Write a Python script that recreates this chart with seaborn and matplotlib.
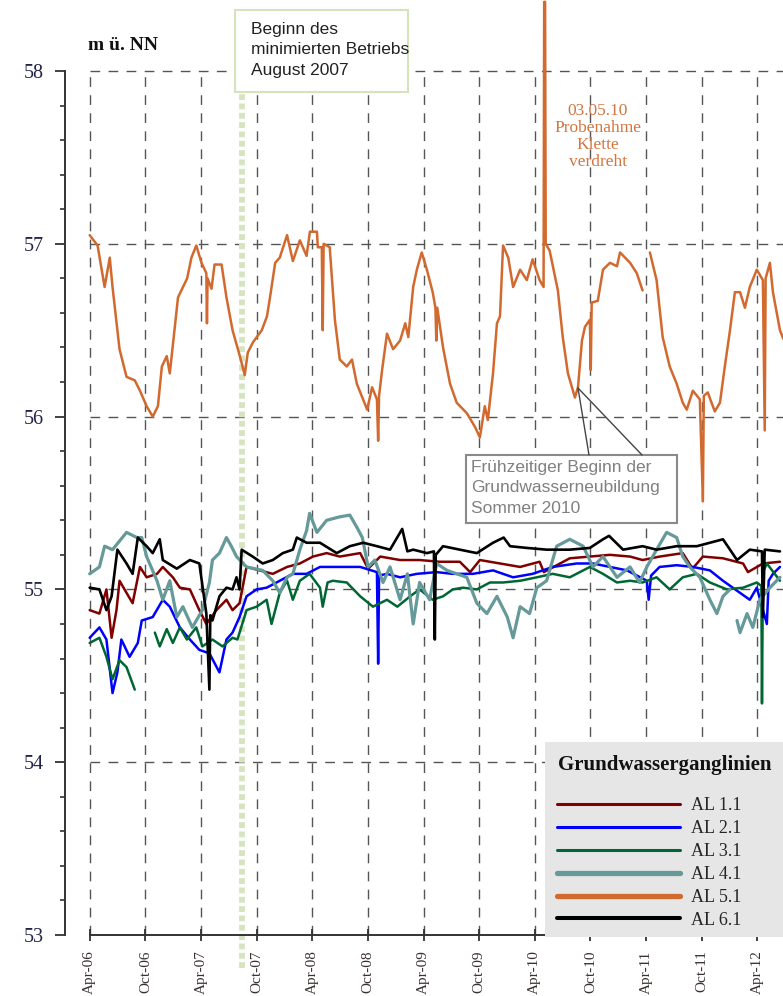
import numpy as np
import pandas as pd
import matplotlib
matplotlib.use("Agg")
import matplotlib.pyplot as plt
from matplotlib.lines import Line2D
from matplotlib.patches import Rectangle
from matplotlib.ticker import FixedLocator
import seaborn as sns

sns.set_style("ticks")
plt.rcParams["font.family"] = ["Liberation Serif", "DejaVu Serif"]

# ---------------- data ----------------
series_names = ["AL 1.1", "AL 2.1", "AL 3.1", "AL 4.1", "AL 5.1", "AL 6.1"]
series_colors = ["#800000", "#0000ff", "#006633", "#669999", "#d2692e", "#000000"]

al11_dates = ["2006-04-01", "2006-05-03", "2006-05-26", "2006-06-12", "2006-06-28", "2006-07-08", "2006-07-31",
              "2006-08-20", "2006-09-13", "2006-10-05", "2006-11-08", "2006-11-27", "2006-12-30", "2007-01-22",
              "2007-02-24", "2007-03-27", "2007-04-19", "2007-05-22", "2007-06-24", "2007-07-14", "2007-08-06",
              "2007-08-29", "2007-10-11", "2007-11-23", "2008-01-09", "2008-02-20", "2008-04-03", "2008-05-18",
              "2008-06-30", "2008-09-05", "2008-10-01", "2008-11-10", "2009-01-14", "2009-03-19", "2009-05-24",
              "2009-07-29", "2009-09-01", "2009-10-03", "2009-12-08", "2010-02-12", "2010-04-17", "2010-05-01",
              "2010-07-25", "2010-09-29", "2010-12-04", "2011-02-08", "2011-03-21", "2011-05-16", "2011-07-31",
              "2011-09-01", "2011-10-05", "2011-12-10", "2012-02-14", "2012-03-01", "2012-04-19", "2012-06-14"]
al11_vals = [54.88, 54.86, 55.00, 54.72, 54.88, 55.05, 54.98,
             54.92, 55.13, 55.07, 55.09, 55.13, 55.07, 55.01,
             55.00, 54.88, 54.80, 54.88, 54.94, 54.88, 54.92,
             55.13, 55.11, 55.09, 55.13, 55.15, 55.19, 55.21,
             55.19, 55.21, 55.12, 55.19, 55.17, 55.17, 55.16,
             55.16, 55.10, 55.17, 55.15, 55.13, 55.16, 55.10,
             55.18, 55.19, 55.20, 55.19, 55.17, 55.19, 55.21,
             55.12, 55.19, 55.18, 55.15, 55.10, 55.15, 55.16]

al21_dates = ["2006-04-01", "2006-05-03", "2006-05-26", "2006-06-15", "2006-07-01", "2006-07-14", "2006-08-10",
              "2006-09-06", "2006-09-19", "2006-10-25", "2006-11-27", "2006-12-20", "2007-01-22", "2007-02-24",
              "2007-03-27", "2007-04-29", "2007-06-01", "2007-06-24", "2007-07-14", "2007-08-06", "2007-08-29",
              "2007-10-01", "2007-11-03", "2007-12-16", "2008-01-28", "2008-03-13", "2008-04-26", "2008-06-30",
              "2008-09-05", "2008-10-30", "2008-11-03", "2008-11-06", "2008-12-02", "2009-01-14", "2009-03-10",
              "2009-05-14", "2009-07-06", "2009-09-10", "2009-11-15", "2010-01-20", "2010-03-25", "2010-05-30",
              "2010-08-17", "2010-10-09", "2010-12-04", "2011-01-29", "2011-04-04", "2011-04-10", "2011-04-18",
              "2011-05-16", "2011-07-11", "2011-09-02", "2011-10-28", "2011-12-10", "2012-02-04", "2012-03-07",
              "2012-03-30", "2012-05-02", "2012-05-08", "2012-05-22", "2012-06-14"]
al21_vals = [54.72, 54.78, 54.71, 54.40, 54.52, 54.71, 54.61,
             54.69, 54.82, 54.84, 54.94, 54.90, 54.78, 54.71,
             54.65, 54.63, 54.52, 54.71, 54.75, 54.84, 54.96,
             55.00, 55.01, 55.05, 55.09, 55.09, 55.13, 55.13,
             55.13, 55.10, 54.57, 55.08, 55.09, 55.07, 55.09,
             55.10, 55.09, 55.09, 55.11, 55.07, 55.09, 55.13,
             55.15, 55.15, 55.13, 55.11, 55.05, 54.94, 55.08,
             55.13, 55.14, 55.13, 55.11, 55.05, 54.98, 54.94,
             55.01, 54.80, 55.05, 55.09, 55.13]

al31_dates = ["2006-04-01", "2006-05-03", "2006-05-26", "2006-06-15", "2006-07-08", "2006-07-31", "2006-08-27",
              "2006-09-15", "2006-11-01", "2006-11-17", "2006-12-10", "2006-12-30", "2007-01-22", "2007-02-14",
              "2007-03-17", "2007-04-06", "2007-05-09", "2007-06-11", "2007-07-14", "2007-07-30", "2007-08-29",
              "2007-10-01", "2007-11-03", "2007-11-19", "2007-12-16", "2008-01-09", "2008-01-28", "2008-02-20",
              "2008-03-23", "2008-04-26", "2008-05-05", "2008-05-21", "2008-06-07", "2008-07-23", "2008-09-05",
              "2008-10-17", "2008-12-02", "2009-01-05", "2009-02-16", "2009-03-19", "2009-05-01", "2009-06-04",
              "2009-07-06", "2009-08-08", "2009-09-23", "2009-11-05", "2009-12-18", "2010-02-12", "2010-04-08",
              "2010-05-30", "2010-07-25", "2010-09-29", "2010-11-11", "2010-12-27", "2011-02-08", "2011-03-21",
              "2011-05-06", "2011-06-18", "2011-07-31", "2011-09-15", "2011-10-28", "2011-12-23", "2012-02-14",
              "2012-03-30", "2012-04-14", "2012-04-16", "2012-04-19", "2012-05-02", "2012-06-14"]
al31_vals = [54.69, 54.72, 54.61, 54.48, 54.59, 54.55, 54.42,
             np.nan, 54.75, 54.67, 54.77, 54.69, 54.78, 54.71,
             54.78, 54.67, 54.71, 54.67, 54.72, 54.71, 54.88,
             54.90, 54.94, 54.80, 54.98, 55.05, 54.94, 55.05,
             55.09, 55.01, 54.90, 55.04, 55.05, 55.04, 54.96,
             54.90, 54.94, 54.90, 54.96, 55.00, 54.94, 54.96,
             55.00, 55.01, 55.00, 55.04, 55.04, 55.05, 55.07,
             55.09, 55.07, 55.13, 55.09, 55.04, 55.05, 55.04,
             55.07, 55.00, 55.07, 55.09, 55.04, 55.00, 55.01,
             55.04, 55.02, 54.34, 55.10, 55.15, 55.05]

al41_dates = ["2006-04-01", "2006-05-03", "2006-05-20", "2006-06-15", "2006-07-31", "2006-09-03", "2006-09-19",
              "2006-10-05", "2006-11-08", "2006-11-27", "2006-12-20", "2007-01-12", "2007-02-01", "2007-03-04",
              "2007-04-06", "2007-04-29", "2007-05-09", "2007-06-01", "2007-06-24", "2007-07-10", "2007-07-27",
              "2007-08-29", "2007-10-21", "2007-11-23", "2007-12-16", "2008-01-09", "2008-01-28", "2008-02-20",
              "2008-03-13", "2008-03-23", "2008-04-16", "2008-05-18", "2008-06-30", "2008-08-02", "2008-08-25",
              "2008-09-12", "2008-10-01", "2008-10-23", "2008-11-19", "2008-12-12", "2009-01-14", "2009-02-07",
              "2009-02-26", "2009-03-19", "2009-04-21", "2009-05-14", "2009-06-17", "2009-07-19", "2009-08-21",
              "2009-09-23", "2009-10-26", "2009-11-28", "2010-01-01", "2010-01-20", "2010-02-12", "2010-03-15",
              "2010-04-08", "2010-05-10", "2010-06-12", "2010-07-25", "2010-09-07", "2010-10-09", "2010-11-11",
              "2010-12-27", "2011-02-08", "2011-03-11", "2011-04-04", "2011-05-06", "2011-06-08", "2011-07-11",
              "2011-07-31", "2011-08-23", "2011-09-25", "2011-10-28", "2011-11-20", "2011-12-10", "2012-01-02",
              "2012-01-12", "2012-01-25", "2012-02-04", "2012-02-27", "2012-03-17", "2012-04-09", "2012-05-12",
              "2012-06-14"]
al41_vals = [55.09, 55.13, 55.25, 55.23, 55.33, 55.30, 55.30,
             55.19, 55.05, 54.94, 55.05, 54.84, 54.90, 54.78,
             54.88, 55.04, 55.17, 55.21, 55.30, 55.25, 55.19,
             55.13, 55.11, 55.05, 54.98, 55.07, 55.09, 55.23,
             55.34, 55.44, 55.33, 55.40, 55.42, 55.43, 55.36,
             55.30, 55.13, 55.17, 55.04, 55.13, 54.94, 55.09,
             54.80, 55.04, 54.94, 55.15, 55.11, 55.09, 55.07,
             54.92, 54.86, 54.96, 54.84, 54.72, 54.90, 54.86,
             55.01, 55.05, 55.25, 55.29, 55.25, 55.13, 55.19,
             55.07, 55.13, 55.04, 55.13, 55.23, 55.33, 55.30,
             55.19, 55.13, 55.07, 54.94, 54.86, 54.96, 55.00,
             np.nan, 54.82, 54.75, 54.86, 54.78, 54.94, 55.01,
             55.07]

al51_dates = ["2006-04-01", "2006-04-27", "2006-05-20", "2006-06-06", "2006-06-15", "2006-07-08", "2006-07-31",
              "2006-08-27", "2006-09-13", "2006-10-05", "2006-10-25", "2006-11-11", "2006-11-24", "2006-12-10",
              "2006-12-20", "2007-01-16", "2007-02-15", "2007-03-01", "2007-03-17", "2007-04-03", "2007-04-19",
              "2007-04-21", "2007-04-23", "2007-05-06", "2007-05-16", "2007-06-08", "2007-06-24", "2007-07-14",
              "2007-08-07", "2007-08-23", "2007-09-02", "2007-09-19", "2007-10-18", "2007-11-04", "2007-11-14",
              "2007-12-01", "2007-12-16", "2008-01-09", "2008-01-28", "2008-02-20", "2008-03-13", "2008-03-24",
              "2008-04-16", "2008-04-19", "2008-05-02", "2008-05-05", "2008-05-08", "2008-05-28", "2008-06-14",
              "2008-06-30", "2008-07-23", "2008-08-09", "2008-08-25", "2008-09-28", "2008-10-14", "2008-10-30",
              "2008-11-03", "2008-11-06", "2008-11-16", "2008-12-02", "2008-12-22", "2009-01-14", "2009-01-31",
              "2009-02-10", "2009-02-26", "2009-03-10", "2009-03-26", "2009-04-12", "2009-05-01", "2009-05-10",
              "2009-05-13", "2009-05-16", "2009-06-04", "2009-06-27", "2009-07-19", "2009-08-21", "2009-09-17",
              "2009-10-03", "2009-10-19", "2009-10-29", "2009-11-15", "2009-11-28", "2009-12-08", "2009-12-18",
              "2010-01-04", "2010-01-20", "2010-02-12", "2010-03-06", "2010-03-25", "2010-04-17", "2010-04-30",
              "2010-05-02", "2010-05-05", "2010-05-07", "2010-05-20", "2010-06-16", "2010-07-02", "2010-07-19",
              "2010-08-11", "2010-08-21", "2010-09-03", "2010-09-13", "2010-09-29", "2010-10-02", "2010-10-05",
              "2010-10-25", "2010-11-11", "2010-12-04", "2010-12-27", "2011-01-06", "2011-02-08", "2011-03-02",
              "2011-03-21", "2011-03-31", "2011-04-14", "2011-05-06", "2011-05-26", "2011-06-18", "2011-07-11",
              "2011-07-31", "2011-08-13", "2011-09-02", "2011-09-25", "2011-10-05", "2011-10-08", "2011-10-21",
              "2011-11-13", "2011-11-30", "2011-12-16", "2012-01-02", "2012-01-18", "2012-02-04", "2012-02-20",
              "2012-03-07", "2012-03-30", "2012-04-19", "2012-04-25", "2012-04-28", "2012-05-12", "2012-05-22",
              "2012-06-14", "2012-06-25"]
al51_vals = [57.05, 56.99, 56.75, 56.92, 56.75, 56.39, 56.23,
             56.21, 56.15, 56.06, 56.00, 56.06, 56.29, 56.35,
             56.25, 56.69, 56.80, 56.92, 56.99, 56.89, 56.83,
             56.54, 56.80, 56.74, 56.88, 56.88, 56.69, 56.50,
             56.35, 56.24, 56.37, 56.43, 56.50, 56.58, 56.69,
             56.89, 56.92, 57.05, 56.90, 57.02, 56.93, 57.07,
             57.07, 56.98, 56.98, 56.50, 57.00, 56.98, 56.56,
             56.33, 56.29, 56.33, 56.19, 56.04, 56.17, 56.10,
             55.86, 56.12, 56.27, 56.48, 56.39, 56.44, 56.54,
             56.46, 56.75, 56.85, 56.95, 56.85, 56.72, 56.63,
             56.44, 56.63, 56.40, 56.19, 56.08, 56.02, 55.94,
             55.88, 56.06, 55.98, 56.25, 56.54, 56.58, 56.99,
             56.92, 56.75, 56.85, 56.79, 56.91, 56.79, 56.75,
             58.40, 58.40, 57.00, 56.96, 56.73, 56.46, 56.25,
             56.11, 56.17, 56.44, 56.52, 56.56, 56.27, 56.66,
             56.67, 56.85, 56.89, 56.87, 56.95, 56.89, 56.83,
             56.73, np.nan, 56.95, 56.79, 56.46, 56.29, 56.19,
             56.08, 56.04, 56.15, 56.10, 55.51, 56.12, 56.14,
             56.03, 56.08, 56.29, 56.50, 56.72, 56.72, 56.63,
             56.75, 56.85, 56.79, 55.92, 56.80, 56.89, 56.72,
             56.50, 56.45]

al61_dates = ["2006-04-01", "2006-05-03", "2006-05-26", "2006-06-12", "2006-07-01", "2006-07-31", "2006-08-20",
              "2006-09-06", "2006-10-05", "2006-10-25", "2006-11-17", "2006-11-27", "2007-01-12", "2007-02-24",
              "2007-03-27", "2007-04-19", "2007-04-29", "2007-05-02", "2007-05-09", "2007-06-01", "2007-06-24",
              "2007-07-14", "2007-07-27", "2007-08-06", "2007-08-13", "2007-09-18", "2007-10-21", "2007-11-23",
              "2007-12-26", "2008-01-28", "2008-02-10", "2008-03-13", "2008-04-26", "2008-06-20", "2008-08-02",
              "2008-09-15", "2008-10-30", "2008-12-12", "2009-01-21", "2009-02-07", "2009-02-26", "2009-04-12",
              "2009-05-05", "2009-05-08", "2009-05-11", "2009-06-04", "2009-07-29", "2009-09-23", "2009-11-15",
              "2009-12-20", "2010-01-10", "2010-03-06", "2010-05-10", "2010-07-25", "2010-09-29", "2010-11-11",
              "2010-12-01", "2011-01-16", "2011-03-21", "2011-05-06", "2011-07-11", "2011-09-15", "2011-12-10",
              "2012-01-25", "2012-03-07", "2012-04-16", "2012-04-19", "2012-04-25", "2012-06-14"]
al61_vals = [55.01, 55.00, 54.88, 54.96, 55.23, 55.15, 55.09,
             55.30, 55.25, 55.21, 55.29, 55.17, 55.12, 55.17,
             55.15, 54.86, 54.42, 54.85, 54.82, 54.96, 55.01,
             55.00, 55.07, 55.00, 55.23, 55.19, 55.15, 55.17,
             55.21, 55.23, 55.30, 55.27, 55.27, 55.21, 55.25,
             55.27, 55.25, 55.23, 55.35, 55.22, 55.23, 55.21,
             55.22, 54.71, 55.20, 55.25, 55.23, 55.21, 55.27,
             55.30, 55.25, 55.24, 55.23, 55.23, 55.24, 55.29,
             55.31, 55.23, 55.25, 55.23, 55.25, 55.25, 55.29,
             55.17, 55.23, 55.22, 54.84, 55.23, 55.22]

series_dates = [al11_dates, al21_dates, al31_dates, al41_dates, al51_dates, al61_dates]
series_vals = [al11_vals, al21_vals, al31_vals, al41_vals, al51_vals, al61_vals]
series_lw = [1.8, 1.8, 1.8, 2.3, 1.8, 1.9]

y_ticks = [53, 54, 55, 56, 57, 58]
x_tick_dates = ["2006-04-01", "2006-10-01", "2007-04-01", "2007-10-01", "2008-04-01", "2008-10-01",
                "2009-04-01", "2009-10-01", "2010-04-01", "2010-10-01", "2011-04-01", "2011-10-01", "2012-04-01"]
x_tick_labels = ["Apr-06", "Oct-06", "Apr-07", "Oct-07", "Apr-08", "Oct-08", "Apr-09",
                 "Oct-09", "Apr-10", "Oct-10", "Apr-11", "Oct-11", "Apr-12"]
event_date = "2007-08-13"

# ---------------- figure ----------------
W, H = 783, 996
fig = plt.figure(figsize=(W / 100, H / 100), dpi=100)
ax = fig.add_axes([65 / W, 61 / H, 718 / W, 935 / H])

x_left = pd.Timestamp("2006-01-10")
x_right = pd.Timestamp("2012-06-24")
xt = pd.to_datetime(x_tick_dates)

grid_kw = dict(colors="#555555", linewidth=1.0, linestyles=(0, (7, 6)), zorder=0.5)
ax.vlines(xt, 53, 58, **grid_kw)
ax.hlines([54, 55, 56, 57, 58], xt[0], x_right, **grid_kw)

# event line (August 2007)
ax.vlines(pd.Timestamp(event_date), 52.81, 57.88, colors="#d6e4bf", linewidth=4.2,
          linestyles=(0, (1.0, 0.6)), clip_on=False, zorder=1.5)

for name, dts, vals, col, lw in zip(series_names, series_dates, series_vals, series_colors, series_lw):
    df = pd.DataFrame({"date": pd.to_datetime(dts), "value": vals})
    df["segment"] = df["value"].isna().cumsum()
    df = df.dropna()
    sns.lineplot(data=df, x="date", y="value", units="segment", estimator=None, sort=False,
                 color=col, linewidth=lw, ax=ax, legend=False, zorder=3)

ax.set_xlim(x_left, x_right)
ax.set_ylim(53, 58 + 71 / 172.8)
ax.set_xlabel("")
ax.set_ylabel("")

for s in ["top", "right"]:
    ax.spines[s].set_visible(False)
ax.spines["left"].set_bounds(53, 58)
ax.spines["bottom"].set_bounds(matplotlib.dates.date2num(xt[0]), matplotlib.dates.date2num(x_right))
for s in ["left", "bottom"]:
    ax.spines[s].set_color("#333333")
    ax.spines[s].set_linewidth(1.4)

ax.set_yticks(y_ticks)
ax.set_yticklabels([str(v) for v in y_ticks])
minor = [v / 5 for v in range(53 * 5, 58 * 5 + 1) if v % 5 != 0]
ax.yaxis.set_minor_locator(FixedLocator(minor))
ax.tick_params(axis="y", which="major", direction="out", length=7.2, width=1.3, color="#333333",
               labelsize=14.5, labelcolor="#23234a", pad=8)
ax.tick_params(axis="y", which="minor", direction="out", length=3.6, width=1.2, color="#333333")

ax.set_xticks(xt)
ax.set_xticklabels(x_tick_labels, rotation=90, va="top", ha="center")
ax.tick_params(axis="x", which="major", direction="inout", length=8, width=1.3, color="#333333",
               labelsize=11, labelcolor="#3a3030", pad=7)
ax.tick_params(axis="x", which="minor", bottom=False)

# y-unit label
fig.text(88 / W, 1 - 45 / H, "m ü. NN", fontsize=14, fontweight="bold", color="#111111",
         ha="left", va="center")

# annotation box: Beginn des minimierten Betriebs
fig.patches.append(Rectangle((235 / W, 1 - 92 / H), 173 / W, 82 / H, transform=fig.transFigure,
                             facecolor="white", edgecolor="#d5e3bd", linewidth=1.5, zorder=5))
fig.text(251 / W, 1 - 22 / H, "Beginn des\nminimierten Betriebs\nAugust 2007", family="Liberation Sans",
         fontsize=12.5, color="#222222", ha="left", va="top", linespacing=1.45, zorder=6)

# orange remark
fig.text(598 / W, 1 - 103 / H, "03.05.10\nProbenahme\nKlette\nverdreht", fontsize=12.5,
         color="#d2753f", ha="center", va="top", linespacing=1.08, zorder=6)

# callout box
fig.patches.append(Rectangle((466 / W, 1 - 523 / H), 211 / W, 68 / H, transform=fig.transFigure,
                             facecolor="white", edgecolor="#8a8a8a", linewidth=1.5, zorder=5))
fig.text(471 / W, 1 - 460 / H, "Frühzeitiger Beginn der\nGrundwasserneubildung\nSommer 2010",
         family="Liberation Sans", fontsize=12.5, color="#808080", ha="left", va="top",
         linespacing=1.45, zorder=6)
for (x0, y0) in [(589, 455), (642, 455)]:
    fig.lines.append(Line2D([x0 / W, 578 / W], [1 - y0 / H, 1 - 388 / H], transform=fig.transFigure,
                            color="#444444", linewidth=1.0, zorder=6))

# legend
fig.patches.append(Rectangle((545 / W, 1 - 937 / H), 250 / W, 195 / H, transform=fig.transFigure,
                             facecolor="#e6e6e6", edgecolor="none", zorder=5))
fig.text(558 / W, 1 - 765 / H, "Grundwasserganglinien", fontsize=15, fontweight="bold",
         color="#111111", ha="left", va="center", zorder=6)
legend_lw = [2.2, 2.2, 2.2, 3.8, 3.8, 2.9]
handles = [Line2D([0], [0], color=c, linewidth=lw) for c, lw in zip(series_colors, legend_lw)]
leg = fig.legend(handles, series_names, loc="upper left", bbox_to_anchor=(557 / W, 1 - 797 / H),
                 frameon=False, fontsize=13, handlelength=6.8, handletextpad=0.6,
                 labelspacing=0.33, borderpad=0.0, borderaxespad=0.0)
leg.set_zorder(7)

fig.savefig("out.png", dpi=100)
